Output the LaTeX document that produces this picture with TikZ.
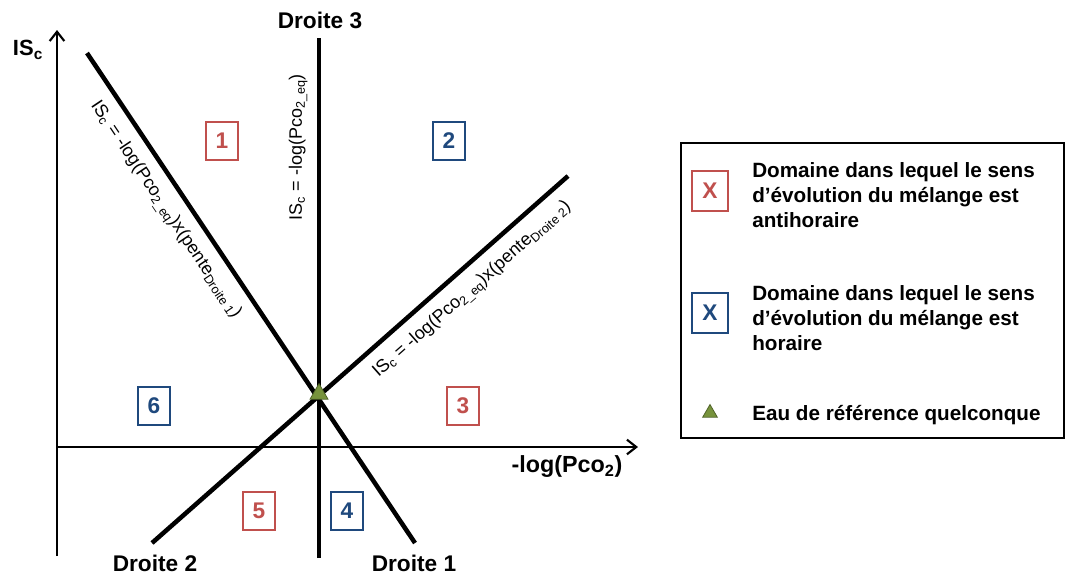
\documentclass[tikz,border=0pt]{standalone}
\usepackage{fontspec}
\setmainfont{Liberation Sans}
\usetikzlibrary{arrows.meta, positioning, shapes.geometric}

\definecolor{domred}{HTML}{C0504D}
\definecolor{domblue}{HTML}{1F497D}
\definecolor{refgreen}{HTML}{77933C}
\definecolor{refdark}{HTML}{4F6228}

\begin{document}
\begin{tikzpicture}[
    x=0.75pt, y=-0.75pt,
    axisline/.style={line width=1.8pt, -{Straight Barb[length=7pt, width=11pt, line width=1.6pt]}},
    droiteline/.style={line width=3.4pt},
    domnode/.style={draw, line width=1.6pt, fill=white, minimum width=24pt,
        minimum height=29pt, inner sep=0pt, font=\bfseries\fontsize{17}{19}\selectfont},
    antinode/.style={domnode, draw=domred, text=domred},
    horanode/.style={domnode, draw=domblue, text=domblue},
    refnode/.style={draw=refdark, fill=refgreen, isosceles triangle, shape border rotate=90,
        isosceles triangle apex angle=60, inner sep=0pt, minimum width=13.5pt, line width=0.6pt},
    titlenode/.style={font=\bfseries\fontsize{17}{19}\selectfont, inner sep=1pt},
    eqnode/.style={font=\fontsize{13.5}{15}\selectfont, inner sep=1pt, sloped},
    legendtext/.style={font=\bfseries\fontsize{15.5}{18.75}\selectfont,
        align=left, anchor=west, inner sep=0pt}
]
\useasboundingbox (0,0) rectangle (1067,575);

% Axes
\coordinate (origin) at (57,447);
\coordinate (ytop) at (57,30);
\coordinate (xend) at (638,447);
\coordinate (ybot) at (57,556);
\draw[axisline] (ybot) -- (ytop);
\draw[axisline] (origin) -- (xend);
\node[titlenode, font=\bfseries\fontsize{16.5}{18}\selectfont] (yname) at (28,50) {IS\textsubscript{c}};
\node[titlenode, font=\bfseries\fontsize{17.5}{19}\selectfont] (xname) at (567,467) {-log(Pco\textsubscript{2})};

% Lines
\coordinate (d1top) at (87,53);
\coordinate (d1bot) at (415,543);
\coordinate (d2bot) at (152,543);
\coordinate (d2top) at (568,176);
\coordinate (d3bot) at (319,558);
\coordinate (d3top) at (319,38);
\draw[droiteline] (d1top) -- node[eqnode, pos=0.295, below=7pt]
    {IS\textsubscript{c} = -log(Pco\textsubscript{2\_eq})x(pente\textsubscript{Droite 1})} (d1bot);
\draw[droiteline] (d2bot) -- node[eqnode, pos=0.735, below=7pt]
    {IS\textsubscript{c} = -log(Pco\textsubscript{2\_eq})x(pente\textsubscript{Droite 2})} (d2top);
\draw[droiteline] (d3bot) -- node[eqnode, pos=0.79, above=6pt]
    {IS\textsubscript{c} = -log(Pco\textsubscript{2\_eq})} (d3top);
\node[titlenode] (d1name) at (414,563) {Droite 1};
\node[titlenode] (d2name) at (155,563) {Droite 2};
\node[titlenode] (d3name) at (320,20) {Droite 3};

% Reference water
\node[refnode] (ref) at (319,394) {};

% Domains
\node[antinode] (dom1) at (222,141) {1};
\node[horanode] (dom2) at (449,141) {2};
\node[antinode] (dom3) at (463,406) {3};
\node[horanode] (dom4) at (347,511) {4};
\node[antinode] (dom5) at (259,511) {5};
\node[horanode] (dom6) at (154,406) {6};

% Legend
\draw[line width=1.2pt] (681,143) rectangle (1064,438);
\node[antinode, minimum width=27pt, minimum height=30pt] (legred) at (710,191) {X};
\node[horanode, minimum width=27pt, minimum height=30pt] (legblue) at (710,313) {X};
\node[refnode, minimum width=11pt] (legref) at (710,413) {};
\node[legendtext] (legredtext) at (752,195)
    {Domaine dans lequel le sens\\d’évolution du mélange est\\antihoraire};
\node[legendtext] (legbluetext) at (752,318)
    {Domaine dans lequel le sens\\d’évolution du mélange est\\horaire};
\node[legendtext] (legreftext) at (752,415) {Eau de référence quelconque};

\end{tikzpicture}
\end{document}
